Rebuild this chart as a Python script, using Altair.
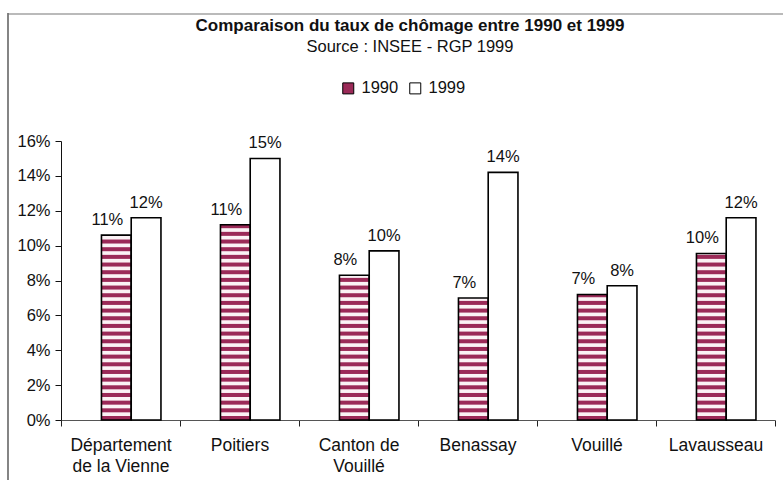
import altair as alt
import pandas as pd

categories = ["Département\nde la Vienne", "Poitiers", "Canton de\nVouillé", "Benassay", "Vouillé", "Lavausseau"]
years = ["1990", "1999"]
v1990 = [10.6, 11.2, 8.3, 7.0, 7.2, 9.55]
v1999 = [11.6, 15.0, 9.7, 14.2, 7.7, 11.6]
y_ticks = [0, 2, 4, 6, 8, 10, 12, 14, 16]

rows = []
for c, a, b in zip(categories, v1990, v1999):
    rows.append({"cat": c, "year": years[0], "value": a})
    rows.append({"cat": c, "year": years[1], "value": b})
df = pd.DataFrame(rows)

FONT = "Liberation Sans"
DARK = "#9b2a58"
LIGHT = "#fbf2f5"

x = alt.X("cat:N", sort=categories,
          scale=alt.Scale(paddingInner=0, paddingOuter=0),
          axis=alt.Axis(title=None, labelAngle=0,
                        labelExpr="split(datum.label, '\\n')",
                        tickBand="extent", tickSize=6, labelPadding=10,
                        labelFontSize=17.5, labelLineHeight=21,
                        domainColor="#555", tickColor="#222",
                        labelColor="#111", labelFont=FONT))
xo = alt.XOffset("year:N", sort=years,
                 scale=alt.Scale(paddingInner=0, paddingOuter=1, align=0.68))
yscale = alt.Scale(domain=[0, 16], nice=False)
yaxis = alt.Axis(title=None, values=y_ticks, labelExpr="datum.value + '%'",
                 grid=False, tickSize=6, labelPadding=5, labelFontSize=16.5,
                 labelFont=FONT, labelColor="#111", domainColor="#111",
                 tickColor="#111")
y = alt.Y("value:Q", scale=yscale, axis=yaxis)

base = alt.Chart(df)

bars = base.mark_bar(strokeWidth=0).encode(
    x=x, xOffset=xo, y=y,
    fill=alt.Fill("year:N", sort=years,
                  scale=alt.Scale(domain=years, range=[DARK, "white"]),
                  legend=alt.Legend(orient="none", legendX=279, legendY=-61,
                                    direction="horizontal", title=None,
                                    symbolType="square", symbolSize=121,
                                    symbolStrokeColor="black", symbolStrokeWidth=1,
                                    labelFontSize=16.5, labelFont=FONT,
                                    labelColor="#111", columnPadding=8,
                                    labelOffset=5, padding=0))
)

stripes = base.transform_filter(
    alt.datum.year == years[0]
).transform_calculate(
    s="sequence(0.23, datum.value, 0.44)"
).transform_flatten(["s"]).transform_calculate(
    s2="min(datum.s + 0.21, datum.value)"
).mark_bar(color=LIGHT, strokeWidth=0).encode(
    x=x, xOffset=xo,
    y=alt.Y("s:Q", scale=yscale, axis=yaxis),
    y2="s2:Q"
)

outline = base.mark_bar(fillOpacity=0, stroke="black", strokeWidth=1.6).encode(
    x=x, xOffset=xo, y=y
)

lab = base.transform_calculate(lbl="round(datum.value) + '%'")
lab1990 = lab.transform_filter(alt.datum.year == years[0]).mark_text(
    baseline="bottom", dy=-7, dx=-9, fontSize=16.5, font=FONT, color="#111"
).encode(x=x, xOffset=xo, y=y, text="lbl:N")
lab1999 = lab.transform_filter(alt.datum.year == years[1]).mark_text(
    baseline="bottom", dy=-7, fontSize=16.5, font=FONT, color="#111"
).encode(x=x, xOffset=xo, y=y, text="lbl:N")

one = pd.DataFrame({"k": [0]})
left_rule = alt.Chart(one).mark_rule(color="#333", strokeWidth=1.2).encode(
    x=alt.value(-53), y=alt.value(-128), y2=alt.value(345))
top_rule = alt.Chart(one).mark_rule(color="#777", strokeWidth=1.2).encode(
    x=alt.value(-53), x2=alt.value(730), y=alt.value(-127))

chart = alt.layer(bars, stripes, outline, lab1990, lab1999, left_rule, top_rule).properties(
    width=714, height=279,
    background="white",
    title=alt.TitleParams(text="Comparaison du taux de chômage entre 1990 et 1999",
                          subtitle="Source : INSEE - RGP 1999",
                          font=FONT, fontSize=17, fontWeight="bold", color="#111",
                          subtitleFont=FONT, subtitleFontSize=16.5, subtitleColor="#111",
                          anchor="middle", offset=-44, dx=-8, subtitlePadding=4),
    autosize=alt.AutoSizeParams(type="none"),
    padding={"left": 61, "top": 141, "right": 8, "bottom": 60}
).configure_view(stroke=None)

chart.save("out.html", embed_options={"renderer": "svg", "actions": False})
